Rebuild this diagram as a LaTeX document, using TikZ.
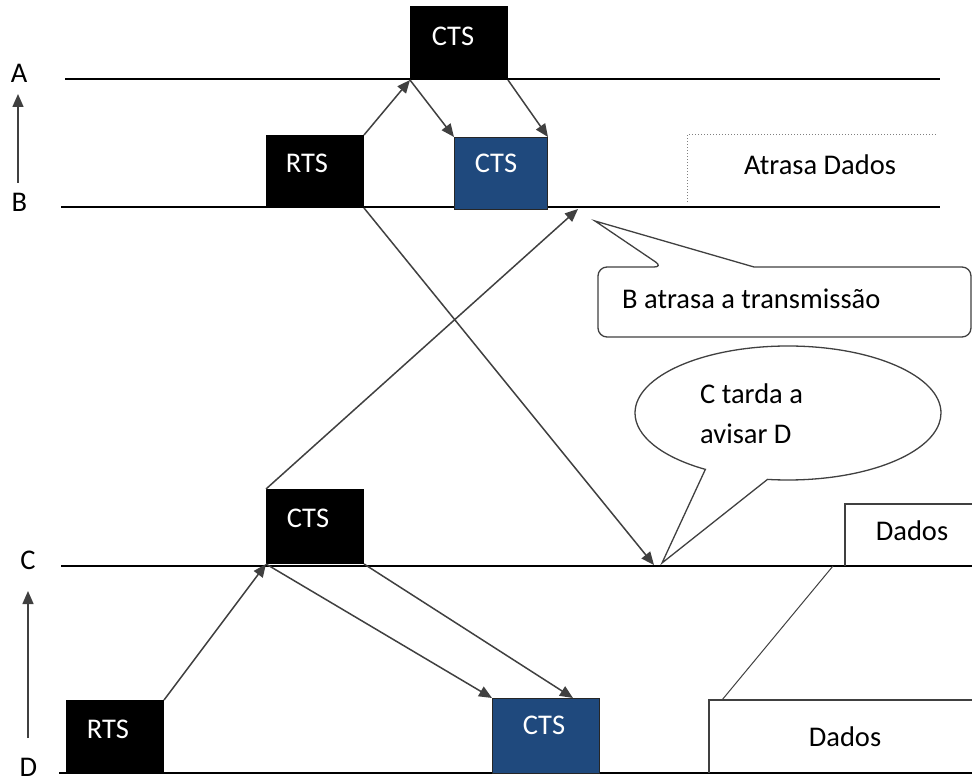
\documentclass[tikz,border=0pt]{standalone}
\usepackage{fontspec}
\setmainfont{Carlito}
\usetikzlibrary{arrows.meta,shapes.callouts,calc}
\definecolor{pktblue}{RGB}{31,73,125}
\definecolor{linegray}{RGB}{64,64,64}
\begin{document}
\begin{tikzpicture}[x=1pt,y=-1pt,
  txt/.style={font=\fontsize{28.5}{34}\selectfont, inner sep=0pt, text=black},
  timeline/.style={line width=1.8pt, black},
  pkt/.style={draw=black, line width=1pt, minimum height=73, inner sep=0pt, anchor=north west},
  blkpkt/.style={pkt, fill=black, minimum width=97},
  bluepkt/.style={pkt, fill=pktblue, draw=black!85},
  pkttxt/.style={txt, text=white},
  msg/.style={draw=linegray, line width=1.5pt, -{Triangle[length=13pt,width=11pt]}},
  outline/.style={draw=linegray, line width=1.3pt},
]
\useasboundingbox (0,0) rectangle (972,783);

% time lines of the four stations
\coordinate (A0) at (65,79);  \coordinate (A1) at (940,79);
\coordinate (B0) at (61,207); \coordinate (B1) at (940,207);
\coordinate (C0) at (61,566); \coordinate (C1) at (972,566);
\coordinate (D0) at (59,773); \coordinate (D1) at (972,773);
\draw[timeline] (A0) -- (A1);
\draw[timeline] (B0) -- (B1);
\draw[timeline] (C0) -- (C1);
\draw[timeline] (D0) -- (D1);

% station labels and direction arrows
\node[txt, anchor=base] (labA) at (19,83) {A};
\node[txt, anchor=base] (labB) at (19.5,212) {B};
\node[txt, anchor=base] (labC) at (28,569) {C};
\node[txt, anchor=base] (labD) at (28.5,776) {D};
\coordinate (up1s) at (18,183); \coordinate (up1e) at (18,94);
\coordinate (up2s) at (28,738); \coordinate (up2e) at (28,591);
\draw[msg] (up1s) -- (up1e);
\draw[msg] (up2s) -- (up2e);

% frames
\node[blkpkt] (ctsA) at (410,6) {};
\node[blkpkt, minimum height=72] (rtsB) at (266,135) {};
\node[bluepkt, minimum width=93, minimum height=72] (ctsB) at (454,137) {};
\node[blkpkt, minimum height=74] (ctsC) at (266,489) {};
\node[blkpkt] (rtsD) at (66,700) {};
\node[bluepkt, minimum width=107, minimum height=75] (ctsD) at (492,698) {};

\node[pkttxt] (ctsAt) at ($(ctsA.north)+(-6,30)$) {CTS};
\node[pkttxt] (rtsBt) at ($(rtsB.north)+(-8,28)$) {RTS};
\node[pkttxt] (ctsBt) at ($(ctsB.north)+(-5,26)$) {CTS};
\node[pkttxt] (ctsCt) at ($(ctsC.north)+(-7,29)$) {CTS};
\node[pkttxt] (rtsDt) at ($(rtsD.north)+(-7,29)$) {RTS};
\node[pkttxt] (ctsDt) at ($(ctsD.north)+(-2,27)$) {CTS};

% message exchange
\coordinate (hitB) at (578,209);
\coordinate (hitC) at (654,565);
\coordinate (hitD) at (573,698);
\draw[msg] (rtsB.north east) -- (ctsA.south west);
\draw[msg] (ctsA.south west) -- (ctsB.north west);
\draw[msg] (ctsA.south east) -- (ctsB.north east);
\draw[msg] (rtsB.south east) -- (hitC);
\draw[msg] (ctsC.north west) -- (hitB);
\draw[msg] (rtsD.north east) -- (ctsC.south west);
\draw[msg] (ctsC.south west) -- (ctsD.north west);
\draw[msg] (ctsC.south east) -- (hitD);

% delayed data on B
\coordinate (dotL) at (687,202); \coordinate (dotC) at (687,135); \coordinate (dotR) at (937,135);
\draw[dotted, gray, line width=1pt] (dotL) -- (dotC) -- (dotR);
\node[txt, anchor=base] (tAtrasa) at (820,175) {Atrasa Dados};

% callout: B delays the transmission
\coordinate (tipB) at (595,221);
\draw[outline, fill=white, rounded corners=9pt]
  (971,300) -- (971,337) -- (598,337) -- (598,267) -- (663,267)
  [sharp corners] -- (tipB) -- (754,267)
  [rounded corners=9pt] -- (971,267) -- cycle;
\node[txt, anchor=base west] (tBatr) at (622,309) {B atrasa a transmissão};

% callout: C is late warning D
\coordinate (tipC) at (662,563);
\node[ellipse callout, draw=linegray, line width=1.3pt, fill=white,
      minimum width=306, minimum height=134, inner sep=0pt,
      callout absolute pointer={(tipC)}, callout pointer arc=25] (bubble) at (788,413) {};
\node[txt, anchor=base west] (tCt1) at (700,403) {C tarda a};
\node[txt, anchor=base west] (tCt2) at (700,443) {avisar D};

% data frames on C and D
\coordinate (dcB) at (845,566); \coordinate (dcT) at (845,504); \coordinate (dcR) at (972,504);
\draw[outline] (dcB) -- (dcT) -- (dcR);
\node[txt, anchor=base] (tDadosC) at (912,540) {Dados};
\coordinate (ddB) at (709,773); \coordinate (ddT) at (709,700); \coordinate (ddR) at (972,700);
\draw[outline] (ddB) -- (ddT) -- (ddR);
\node[txt, anchor=base] (tDadosD) at (845,746) {Dados};
\coordinate (lkC) at (833,566); \coordinate (lkD) at (722,700);
\draw[outline, line width=1pt] (lkC) -- (lkD);
\end{tikzpicture}
\end{document}
